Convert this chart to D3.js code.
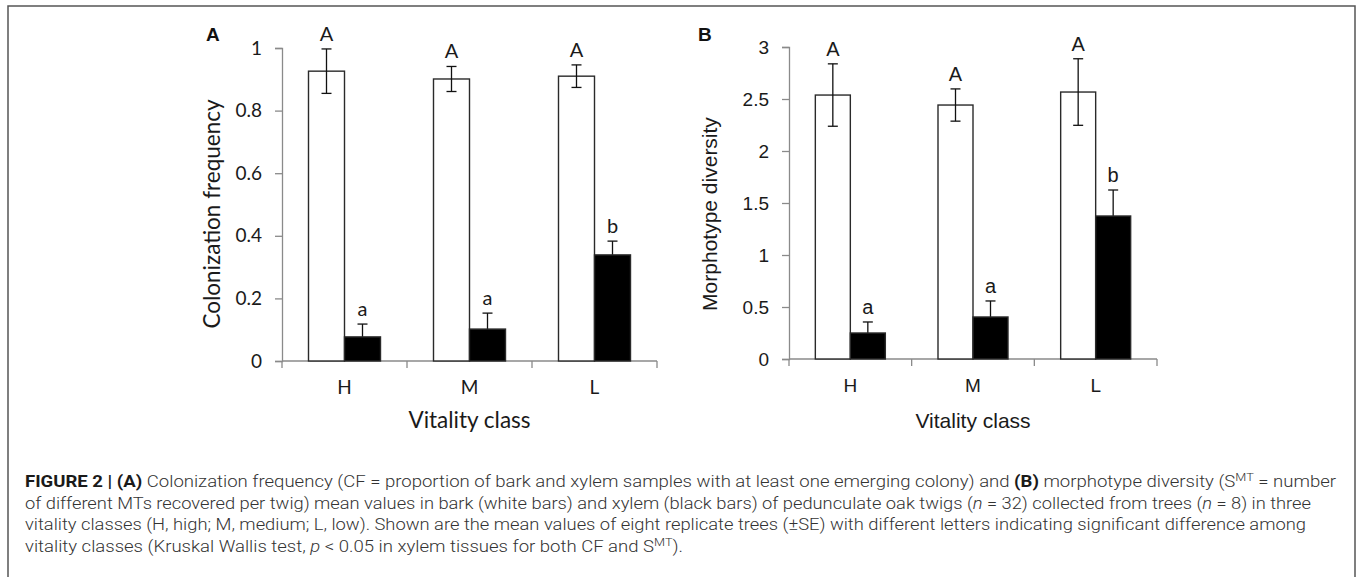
<!DOCTYPE html>
<html>
<head>
<meta charset="utf-8">
<script src="https://cdn.jsdelivr.net/npm/d3@7"></script>
<style>
  body { margin: 0; background: #fff; }
  svg { display: block; }
</style>
</head>
<body>
<div class="chart"></div>
<script>
// data
var classes = ["H", "M", "L"];

var cfBark = [0.926, 0.901, 0.910];
var cfBarkSE = [0.071, 0.040, 0.036];
var cfXylem = [0.077, 0.102, 0.339];
var cfXylemSE = [0.041, 0.051, 0.044];
var cfTicks = [0, 0.2, 0.4, 0.6, 0.8, 1];

var mdBark = [2.538, 2.442, 2.567];
var mdBarkSE = [0.300, 0.155, 0.320];
var mdXylem = [0.250, 0.404, 1.375];
var mdXylemSE = [0.106, 0.154, 0.250];
var mdTicks = [0, 0.5, 1, 1.5, 2, 2.5, 3];

var barkLetters = ["A", "A", "A"];
var xylemLetters = ["a", "a", "b"];

var width = 1357, height = 577;

var svg = d3.select(".chart").append("svg")
  .attr("width", width)
  .attr("height", height);

// frame round the figure (bottom edge is cut off)
svg.append("path")
  .attr("d", "M8," + height + "V6H1355V" + height)
  .attr("fill", "none")
  .attr("stroke", "#555")
  .attr("stroke-width", 1.5);

function drawPanel(p) {
  var g = svg.append("g").attr("font-family", p.font).attr("fill", "#1a1a1a");

  var x = d3.scaleBand().domain(classes).range([p.left, p.right]);
  var y = d3.scaleLinear().domain([0, p.max]).range([p.bottom, p.top]);

  // y axis
  var yAxis = g.append("g")
    .attr("transform", "translate(" + p.left + ",0)")
    .call(d3.axisLeft(y).tickValues(p.ticks).tickSize(7).tickPadding(13)
      .tickFormat(function(d) { return String(d); }));
  yAxis.select(".domain").attr("stroke", "#8a8a8a").attr("stroke-width", 1.3);
  yAxis.selectAll(".tick line").attr("stroke", "#8a8a8a").attr("stroke-width", 1.3);
  yAxis.selectAll(".tick text")
    .attr("font-size", p.tickSize)
    .attr("font-family", p.font)
    .attr("fill", "#1a1a1a");

  // x axis: ticks on band edges
  var edges = classes.map(function(c) { return x(c); }).concat([p.right]);
  g.append("line")
    .attr("x1", p.left).attr("x2", p.right)
    .attr("y1", p.bottom).attr("y2", p.bottom)
    .attr("stroke", "#8a8a8a").attr("stroke-width", 1.3);
  g.selectAll(".xtick")
    .data(edges)
    .enter().append("line")
    .attr("class", "xtick")
    .attr("x1", function(d) { return d; }).attr("x2", function(d) { return d; })
    .attr("y1", p.bottom).attr("y2", p.bottom + 7)
    .attr("stroke", "#8a8a8a").attr("stroke-width", 1.3);

  g.selectAll(".xlabel")
    .data(classes)
    .enter().append("text")
    .attr("class", "xlabel")
    .attr("x", function(d) { return x(d) + x.bandwidth() / 2; })
    .attr("y", p.bottom + 33)
    .attr("text-anchor", "middle")
    .attr("font-size", p.tickSize)
    .text(function(d) { return d; });

  g.append("text")
    .attr("x", (p.left + p.right) / 2)
    .attr("y", 428)
    .attr("text-anchor", "middle")
    .attr("font-size", p.titleSize)
    .text("Vitality class");

  g.append("text")
    .attr("transform", "translate(" + p.titleX + ",214) rotate(-90)")
    .attr("text-anchor", "middle")
    .attr("font-size", p.titleSize)
    .text(p.yTitle);

  svg.append("text")
    .attr("x", p.labelX)
    .attr("y", 41)
    .attr("font-family", "Liberation Sans, Arial, sans-serif")
    .attr("font-weight", "bold")
    .attr("font-size", 19)
    .attr("fill", "#111")
    .text(p.label);

  var series = [
    { values: p.bark, se: p.barkSE, letters: barkLetters, fill: "#fff", offset: -1, errBehind: false },
    { values: p.xylem, se: p.xylemSE, letters: xylemLetters, fill: "#000", offset: 0, errBehind: true }
  ];

  series.forEach(function(s) {
    var rows = classes.map(function(c, i) {
      return { cls: c, v: s.values[i], se: s.se[i], letter: s.letters[i] };
    });
    var cx = function(d) { return x(d.cls) + x.bandwidth() / 2 + (s.offset + 0.5) * p.barW; };

    function drawBars() {
      g.selectAll(null)
        .data(rows)
        .enter().append("rect")
        .attr("x", function(d) { return x(d.cls) + x.bandwidth() / 2 + s.offset * p.barW; })
        .attr("y", function(d) { return y(d.v); })
        .attr("width", p.barW)
        .attr("height", function(d) { return y(0) - y(d.v); })
        .attr("fill", s.fill)
        .attr("stroke", "#2a2a2a")
        .attr("stroke-width", 1.4);
    }

    function drawErrors() {
      var err = g.selectAll(null)
        .data(rows)
        .enter().append("g");
      err.append("line")
        .attr("x1", cx).attr("x2", cx)
        .attr("y1", function(d) { return y(d.v - d.se); })
        .attr("y2", function(d) { return y(d.v + d.se); });
      err.append("line")
        .attr("x1", function(d) { return cx(d) - 5; }).attr("x2", function(d) { return cx(d) + 5; })
        .attr("y1", function(d) { return y(d.v + d.se); })
        .attr("y2", function(d) { return y(d.v + d.se); });
      err.append("line")
        .attr("x1", function(d) { return cx(d) - 5; }).attr("x2", function(d) { return cx(d) + 5; })
        .attr("y1", function(d) { return y(d.v - d.se); })
        .attr("y2", function(d) { return y(d.v - d.se); });
      err.selectAll("line").attr("stroke", "#111").attr("stroke-width", 1.3);
    }

    if (s.errBehind) { drawErrors(); drawBars(); } else { drawBars(); drawErrors(); }

    g.selectAll(null)
      .data(rows)
      .enter().append("text")
      .attr("x", cx)
      .attr("y", function(d) { return y(d.v + d.se) - 8; })
      .attr("text-anchor", "middle")
      .attr("font-size", p.letterSize)
      .text(function(d) { return d.letter; });
  });
}

drawPanel({
  label: "A", labelX: 206, font: "Lato, 'Open Sans', sans-serif",
  left: 282, right: 657, top: 48, bottom: 361, max: 1, ticks: cfTicks,
  bark: cfBark, barkSE: cfBarkSE, xylem: cfXylem, xylemSE: cfXylemSE,
  barW: 36, tickSize: 19, titleSize: 22.5, letterSize: 20, titleX: 220,
  yTitle: "Colonization frequency"
});

drawPanel({
  label: "B", labelX: 698, font: "'Liberation Sans', Arial, sans-serif",
  left: 789, right: 1157, top: 47, bottom: 359, max: 3, ticks: mdTicks,
  bark: mdBark, barkSE: mdBarkSE, xylem: mdXylem, xylemSE: mdXylemSE,
  barW: 35, tickSize: 19, titleSize: 21, letterSize: 20, titleX: 717,
  yTitle: "Morphotype diversity"
});

// caption
var captionLines = [
  [["FIGURE 2 | (A)", "b"], [" Colonization frequency (CF = proportion of bark and xylem samples with at least one emerging colony) and "], ["(B)", "b"], [" morphotype diversity (S"], ["MT", "sup"], [" = number"]],
  [["of different MTs recovered per twig) mean values in bark (white bars) and xylem (black bars) of pedunculate oak twigs ("], ["n", "i"], [" = 32) collected from trees ("], ["n", "i"], [" = 8) in three"]],
  [["vitality classes (H, high; M, medium; L, low). Shown are the mean values of eight replicate trees (\u00b1SE) with different letters indicating significant difference among"]],
  [["vitality classes (Kruskal Wallis test, "], ["p", "i"], [" < 0.05 in xylem tissues for both CF and S"], ["MT", "sup"], [")."]]
];
var captionEnds = [1336, 1311, 1306, 683];

captionLines.forEach(function(line, i) {
  var t = svg.append("text")
    .attr("x", 25)
    .attr("y", 487 + i * 21.5)
    .attr("font-family", "Roboto, 'Liberation Sans', sans-serif")
    .attr("font-weight", 300)
    .attr("font-size", 16)
    .attr("fill", "#333")
    .attr("textLength", captionEnds[i] - 25)
    .attr("lengthAdjust", "spacingAndGlyphs");
  var shifted = false;
  line.forEach(function(seg) {
    var ts = t.append("tspan").text(seg[0]);
    if (seg[1] === "b") ts.attr("font-weight", "bold").attr("fill", "#1a1a1a");
    if (seg[1] === "i") ts.attr("font-style", "italic");
    if (seg[1] === "sup") {
      ts.attr("font-size", 11).attr("dy", -6);
      shifted = true;
    } else if (shifted) {
      ts.attr("dy", 6);
      shifted = false;
    }
  });
});
</script>
</body>
</html>
